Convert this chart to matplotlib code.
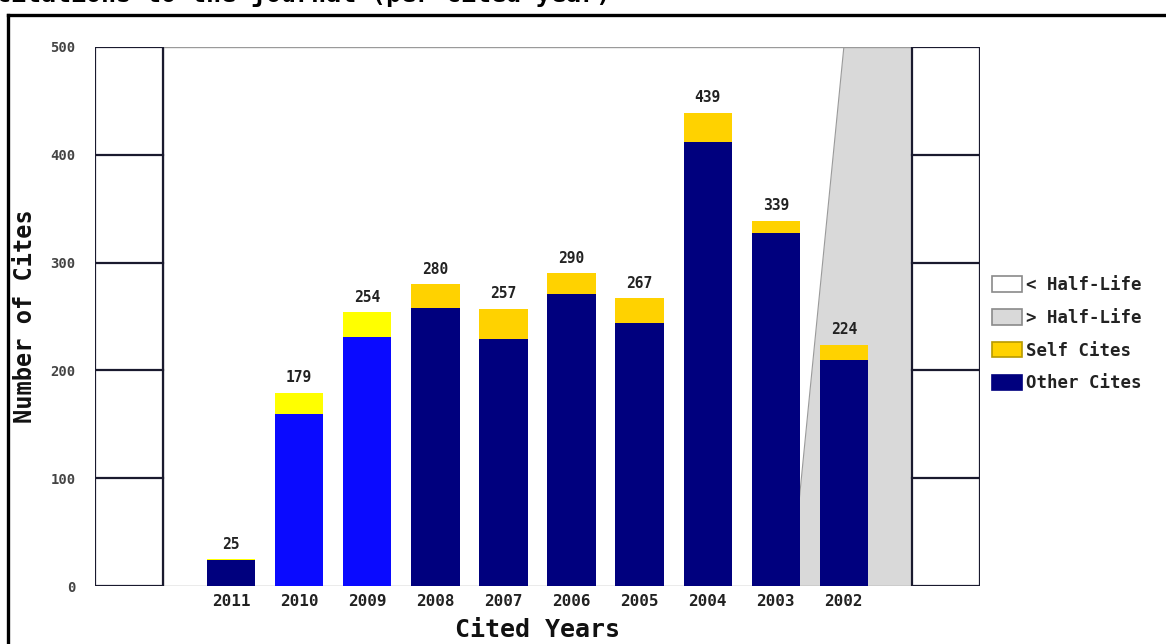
import matplotlib
matplotlib.use("Agg")
import matplotlib.pyplot as plt
from matplotlib.patches import Rectangle, Polygon, Patch
from matplotlib.lines import Line2D

years = ["2011", "2010", "2009", "2008", "2007", "2006", "2005", "2004", "2003", "2002"]
other_cites = [24, 160, 231, 258, 229, 271, 244, 412, 327, 210]
self_cites = [1, 19, 23, 22, 28, 19, 23, 27, 12, 14]
totals = [25, 179, 254, 280, 257, 290, 267, 439, 339, 224]
yticks = [0, 100, 200, 300, 400, 500]
half_life_top = 9.0      # x position (category units) of the half-life line at the top
half_life_bottom = 8.22  # x position at the bottom

W, H = 1166, 644
fig = plt.figure(figsize=(W / 100, H / 100), dpi=100)
fig.patch.set_facecolor("white")

mono = "DejaVu Sans Mono"
navy = "#00007e"
blue = "#0a0aff"
gold = "#ffd200"
yellow = "#ffff00"
gray_fill = "#d9d9d9"
box_edge = "#1a1a2e"

# axes: data x from -2 (left box) to 11 (right box)
left_px, right_px, top_px, bot_px = 95, 980, 47, 586
ax = fig.add_axes([left_px / W, 1 - bot_px / H, (right_px - left_px) / W, (bot_px - top_px) / H])
ax.set_xlim(-2, 11)
ax.set_ylim(0, 500)
for s in ax.spines.values():
    s.set_visible(False)
ax.set_facecolor("none")

# half-life shaded region
ax.add_patch(Polygon([(half_life_top, 500), (10, 500), (10, 0), (half_life_bottom, 0)],
                     closed=True, facecolor=gray_fill, edgecolor="none", zorder=1))
ax.plot([half_life_top, half_life_bottom], [500, 0], color="#9a9a9a", lw=0.8, zorder=1.5)

# main area border lines (light gray)
ax.plot([-1, 10], [500, 500], color="#9a9a9a", lw=1.0, zorder=1.6)
ax.plot([-1, 10], [0, 0], color="#9a9a9a", lw=1.0, zorder=1.6)
ax.plot([-1, -1], [0, 500], color="#b0b0b0", lw=1.0, zorder=1.6)

# side boxes with grid lines
for x0 in (-2, 10):
    ax.add_patch(Rectangle((x0, 0), 1, 500, facecolor="white", edgecolor=box_edge,
                           lw=1.6, zorder=2))
    for t in yticks[1:-1]:
        ax.plot([x0, x0 + 1], [t, t], color=box_edge, lw=1.6, zorder=2.1)

# bars
xs = list(range(len(years)))
other_colors = [navy, blue, blue] + [navy] * 7
self_colors = [yellow, yellow, yellow] + [gold] * 7
bw = 0.71
ax.bar(xs, other_cites, width=bw, color=other_colors, zorder=3, linewidth=0)
ax.bar(xs, self_cites, width=bw, bottom=other_cites, color=self_colors, zorder=3, linewidth=0)

for x, t in zip(xs, totals):
    ax.text(x, t + 7, str(t), ha="center", va="bottom", fontsize=10.5,
            fontfamily=mono, fontweight="bold", color="#222222", zorder=4)

ax.set_xticks(xs)
ax.set_xticklabels(years, fontfamily=mono, fontweight="bold", fontsize=11.5, color="#222222")
ax.set_yticks(yticks)
ax.set_yticklabels([str(t) for t in yticks], fontfamily=mono, fontweight="bold",
                   fontsize=10, color="#444444")
ax.tick_params(axis="both", length=0)
ax.tick_params(axis="x", pad=6)
ax.tick_params(axis="y", pad=14)

ax.set_xlabel("Cited Years", fontfamily=mono, fontweight="bold", fontsize=18,
              color="#111111", labelpad=6)
ax.set_ylabel("Number of Cites", fontfamily=mono, fontweight="bold", fontsize=17,
              color="#111111", labelpad=10)

# legend
handles = [
    Patch(facecolor="white", edgecolor="#8a8a8a", lw=1.2, label="< Half-Life"),
    Patch(facecolor=gray_fill, edgecolor="#8a8a8a", lw=1.2, label="> Half-Life"),
    Patch(facecolor=gold, edgecolor="#b89a00", lw=1.2, label="Self Cites"),
    Patch(facecolor=navy, edgecolor=navy, lw=1.2, label="Other Cites"),
]
leg = fig.legend(handles=handles, loc="upper left", bbox_to_anchor=(992 / W, 1 - 276 / H),
                 frameon=False, prop={"family": mono, "weight": "bold", "size": 12.5},
                 handlelength=1.7, handleheight=1.0, handletextpad=0.25, labelspacing=0.85,
                 borderaxespad=0, borderpad=0)
for t in leg.get_texts():
    t.set_color("#222222")

# outer frame (top and left edges visible)
fig.add_artist(Line2D([8 / W, 8 / W], [0, 1 - 15 / H], color="black", lw=2.4))
fig.add_artist(Line2D([8 / W, 1], [1 - 15 / H, 1 - 15 / H], color="black", lw=2.4))

# clipped title at the very top
fig.text(-4 / W, 1 - 2 / H, "Citations to the journal (per cited year)", ha="left",
         va="baseline", fontfamily=mono, fontweight="bold", fontsize=18, color="black")

fig.savefig("out.png", dpi=100)
